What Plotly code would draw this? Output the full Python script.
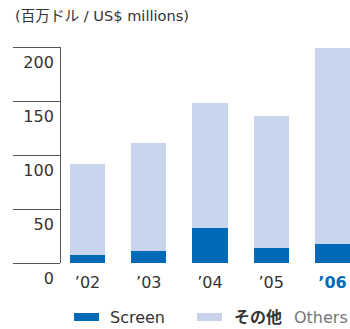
import plotly.graph_objects as go

# Revenue by segment, US$ millions
years = ["’02", "’03", "’04", "’05", "’06"]
screen = [7, 11.5, 32, 13.5, 18]
totals = [91.5, 111.5, 148, 136, 199]
others = [t - s for t, s in zip(totals, screen)]
y_ticks = [0, 50, 100, 150, 200]

BLUE = "#006ab8"
LIGHT = "#c8d3ec"
TEXT = "#333333"
AXIS = "#555555"
FONT = "DejaVu Sans, Noto Sans CJK JP, sans-serif"

tick_text = [y if i < len(years) - 1 else f"<b><span style='color:{BLUE}'>{y}</span></b>"
             for i, y in enumerate(years)]

fig = go.Figure()
fig.add_bar(x=list(range(len(years))), y=screen, marker_color=BLUE,
            marker_line_width=0, name="Screen")
fig.add_bar(x=list(range(len(years))), y=others, marker_color=LIGHT,
            marker_line_width=0, name="Others")

W, H = 350, 329
ML, MR, MT, MB = 61, 0, 47, 66

fig.update_layout(
    width=W, height=H, barmode="stack", bargap=0.428,
    margin=dict(l=ML, r=MR, t=MT, b=MB),
    plot_bgcolor="white", paper_bgcolor="white",
    showlegend=False,
    font=dict(family=FONT, color=TEXT, size=16),
    xaxis=dict(range=[-0.433, 4.286], tickvals=list(range(len(years))),
               ticktext=tick_text, showline=False, showgrid=False,
               zeroline=False, ticks="", ticklabelstandoff=8,
               tickfont=dict(size=16, color=TEXT)),
    yaxis=dict(range=[0, 200], tickvals=y_ticks, showline=True,
               linecolor=AXIS, linewidth=1, showgrid=False, zeroline=False,
               ticks="outside", ticklen=47, tickcolor=AXIS, tickwidth=1,
               ticklabelstandoff=-44, ticklabelshift=15,
               tickfont=dict(size=16, color=TEXT)),
)

def px(x):
    return (x - ML) / (W - ML - MR)

def py(y):
    return (H - MB - y) / (H - MT - MB)

# unit caption
fig.add_annotation(text="(百万ドル / US$ millions)", xref="paper", yref="paper",
                   x=px(13), y=py(15), xanchor="left", yanchor="middle",
                   showarrow=False, font=dict(size=14.6, color=TEXT))

# legend
legend_items = [(74, BLUE, [(108, "Screen", TEXT)]),
                (197, LIGHT, [(232, "<b>その他</b>", TEXT), (292, "Others", "#777777")])]
for x0, col, labels in legend_items:
    fig.add_shape(type="rect", xref="paper", yref="paper",
                  x0=px(x0), x1=px(x0 + 25), y0=py(321), y1=py(313),
                  fillcolor=col, line_width=0)
    for lx, label, lc in labels:
        fig.add_annotation(text=label, xref="paper", yref="paper",
                           x=px(lx), y=py(317), xanchor="left", yanchor="middle",
                           showarrow=False, font=dict(size=16, color=lc))

fig.write_html("out.html")
